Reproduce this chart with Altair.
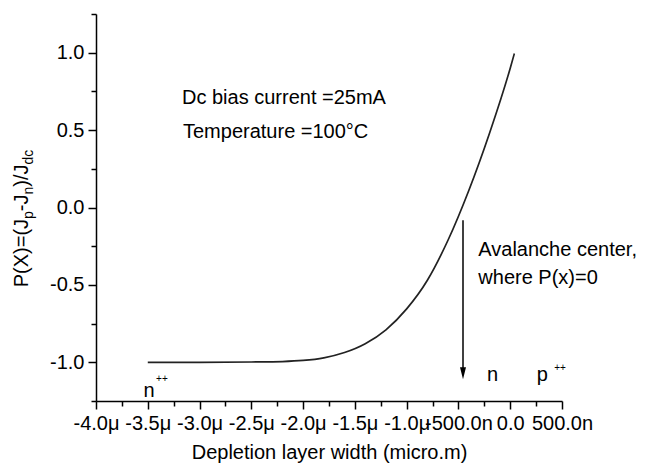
import json
import altair as alt
import pandas as pd

# ---- data ----
x_um = [-3.5, -3.0, -2.5, -2.2, -2.0, -1.8, -1.6, -1.4, -1.2, -1.0, -0.8, -0.6, -0.4, -0.2, 0.0, 0.04]
p_val = [-1.0, -1.0, -0.998, -0.995, -0.988, -0.971, -0.937, -0.880, -0.790, -0.655, -0.47, -0.21,
         0.11, 0.48, 0.90, 0.995]

x_major = [-4.0, -3.5, -3.0, -2.5, -2.0, -1.5, -1.0, -0.5, 0.0, 0.5]
x_major_labels = ["-4.0μ", "-3.5μ", "-3.0μ", "-2.5μ", "-2.0μ", "-1.5μ", "-1.0μ", "-500.0n", "0.0", "500.0n"]
x_minor = [-3.75, -3.25, -2.75, -2.25, -1.75, -1.25, -0.75, -0.25, 0.25]
y_major = [-1.0, -0.5, 0.0, 0.5, 1.0]
y_major_labels = ["-1.0", "-0.5", "0.0", "0.5", "1.0"]
y_minor = [-1.25, -0.75, -0.25, 0.25, 0.75, 1.25]

x_title = "Depletion layer width (micro.m)"
ytitle_parts = ["P(X)=(J", "p", "-J", "n", ")/J", "dc"]
ytitle_is_sub = [False, True, False, True, False, True]

note_text = ["Dc bias current =25mA", "Temperature =100°C", "Avalanche center,", "where P(x)=0", "n", "n", "p"]
note_x = [-3.17, -3.16, -0.308, -0.308, -3.488, -0.171, 0.311]
note_y = [0.667, 0.451, -0.313, -0.492, -1.223, -1.118, -1.118]
note_align = ["left", "left", "left", "left", "center", "center", "center"]

sup_text = ["++", "++"]
sup_x = [-3.363, 0.481]
sup_y = [-1.107, -1.036]

arrow_x = [-0.456]
arrow_y_top = [-0.082]
arrow_y_head = [-1.07]

FONT = "Liberation Sans"
BLACK = "#000000"

xs = alt.Scale(domain=[-4.0, 0.5], nice=False, zero=False)
ys = alt.Scale(domain=[-1.25, 1.25], nice=False, zero=False)

x_expr = json.dumps(x_major_labels, ensure_ascii=False) + "[round((datum.value + 4) * 2)]"
y_expr = json.dumps(y_major_labels, ensure_ascii=False) + "[round((datum.value + 1) * 2)]"

x_axis = alt.Axis(values=x_major, labelExpr=x_expr, tickSize=8, title=x_title, orient="bottom",
                  labelOverlap=False, labelFlush=False, labelPadding=4, titlePadding=9)
y_axis = alt.Axis(values=y_major, labelExpr=y_expr, tickSize=8, title=None, orient="left",
                  labelOverlap=False, labelFlush=False, labelPadding=4)
x_axis_minor = alt.Axis(values=x_minor, tickSize=5, labels=False, domain=False, title=None, orient="bottom")
y_axis_minor = alt.Axis(values=y_minor, tickSize=5, labels=False, domain=False, title=None, orient="left")

curve_df = pd.DataFrame({"x": x_um, "p": p_val})
curve = alt.Chart(curve_df).mark_line(color="#222222", strokeWidth=1.7, interpolate="monotone").encode(
    x=alt.X("x:Q", scale=xs, axis=x_axis),
    y=alt.Y("p:Q", scale=ys, axis=y_axis),
)
minor_axes = alt.Chart(curve_df).mark_line(opacity=0).encode(
    x=alt.X("x:Q", scale=xs, axis=x_axis_minor),
    y=alt.Y("p:Q", scale=ys, axis=y_axis_minor),
)

arrow_df = pd.DataFrame({"x": arrow_x, "y1": arrow_y_top, "y2": arrow_y_head})
arrow_line = alt.Chart(arrow_df).mark_rule(color=BLACK, strokeWidth=1.5).encode(
    x=alt.X("x:Q", scale=xs, axis=None), y=alt.Y("y1:Q", scale=ys, axis=None), y2="y2:Q"
)
arrow_head = alt.Chart(arrow_df).mark_point(
    shape="M-0.5,-1L0.5,-1L0,1Z", filled=True, size=144, color=BLACK, opacity=1
).encode(x=alt.X("x:Q", scale=xs, axis=None), y=alt.Y("y2:Q", scale=ys, axis=None))

notes_df = pd.DataFrame({"x": note_x, "y": note_y, "t": note_text, "a": note_align})
notes_left = alt.Chart(notes_df[notes_df.a == "left"]).mark_text(
    align="left", baseline="alphabetic", font=FONT, fontSize=20, color=BLACK
).encode(x=alt.X("x:Q", scale=xs, axis=None), y=alt.Y("y:Q", scale=ys, axis=None), text="t:N")
notes_center = alt.Chart(notes_df[notes_df.a == "center"]).mark_text(
    align="center", baseline="alphabetic", font=FONT, fontSize=20, color=BLACK
).encode(x=alt.X("x:Q", scale=xs, axis=None), y=alt.Y("y:Q", scale=ys, axis=None), text="t:N")

sup_df = pd.DataFrame({"x": sup_x, "y": sup_y, "t": sup_text})
sups = alt.Chart(sup_df).mark_text(
    align="center", baseline="middle", font=FONT, fontSize=10, color=BLACK
).encode(x=alt.X("x:Q", scale=xs, axis=None), y=alt.Y("y:Q", scale=ys, axis=None), text="t:N")

# rotated y-axis title with subscripts, laid out with Arial-like advance widths
ARIAL = {"P": .667, "(": .333, "X": .667, ")": .333, "=": .584, "J": .5, "-": .333,
         "/": .278, "p": .556, "n": .556, "d": .556, "c": .5}
MAIN_F, SUB_F = 20, 14
widths = [sum(ARIAL[c] for c in s) * (SUB_F if sub else MAIN_F)
          for s, sub in zip(ytitle_parts, ytitle_is_sub)]
center = 204.5
start = center + sum(widths) / 2
title_layers = []
cum = 0.0
for s, sub, wdt in zip(ytitle_parts, ytitle_is_sub, widths):
    pos = start - cum
    cum += wdt
    title_layers.append(
        alt.Chart(pd.DataFrame({"t": [s]})).mark_text(
            align="left", baseline="alphabetic", angle=270, font=FONT,
            fontSize=SUB_F if sub else MAIN_F, dy=5 if sub else 0, color=BLACK
        ).encode(text="t:N", x=alt.value(-68), y=alt.value(pos))
    )

chart = alt.layer(curve, minor_axes, arrow_line, arrow_head, notes_left, notes_center, sups,
                  *title_layers).resolve_axis(x="independent", y="independent").properties(
    width=466, height=387,
    autosize=alt.AutoSizeParams(type="none"),
    padding={"left": 88, "top": 6, "right": 79, "bottom": 64},
).configure_view(stroke=None).configure_axis(
    grid=False, domainColor=BLACK, domainWidth=1.5, tickColor=BLACK, tickWidth=1.5,
    labelFont=FONT, labelFontSize=20, labelColor=BLACK,
    titleFont=FONT, titleFontSize=20, titleFontWeight="normal", titleColor=BLACK,
)

chart.save("out.html", embed_options={"renderer": "svg", "actions": False})
